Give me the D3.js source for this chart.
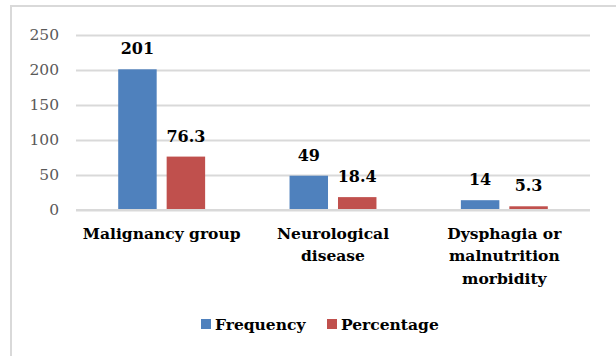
<!DOCTYPE html>
<html>
<head>
<meta charset="utf-8">
<script src="https://cdn.jsdelivr.net/npm/d3@7"></script>
<style>
  body { margin: 0; background: #fff; }
  svg text { font-family: "DejaVu Serif", serif; }
</style>
</head>
<body>
<div id="chart"></div>
<script>
// data
const categories = ['Malignancy group', 'Neurological disease', 'Dysphagia or malnutrition morbidity'];
const categoryLines = [['Malignancy group'], ['Neurological', 'disease'], ['Dysphagia or', 'malnutrition', 'morbidity']];
const seriesNames = ['Frequency', 'Percentage'];
const frequency = [201, 49, 14];
const percentage = [76.3, 18.4, 5.3];
const valueLabels = { Frequency: ['201', '49', '14'], Percentage: ['76.3', '18.4', '5.3'] };
const yTicks = [0, 50, 100, 150, 200, 250];

const colours = { Frequency: '#4f81bd', Percentage: '#c0504d' };

const config = {
  width: 616,
  height: 356,
  left: 76,
  right: 590,
  top: 35,
  bottom: 210
};

const rows = categories.map((c, i) => ({
  category: c,
  lines: categoryLines[i],
  Frequency: frequency[i],
  Percentage: percentage[i]
}));

const svg = d3.select('#chart')
  .append('svg')
    .attr('width', config.width)
    .attr('height', config.height);

// chart area border (right & bottom are cropped in the original)
svg.append('rect')
  .attr('x', 11)
  .attr('y', 6)
  .attr('width', config.width + 10)
  .attr('height', config.height + 10)
  .attr('fill', 'none')
  .attr('stroke', '#d9d9d9')
  .attr('stroke-width', 2);

const x0 = d3.scaleBand()
  .domain(categories)
  .range([config.left, config.right]);

const x1 = d3.scaleBand()
  .domain(seriesNames)
  .range([0, x0.bandwidth()])
  .paddingInner(0.206)
  .paddingOuter(0.871);

const y = d3.scaleLinear()
  .domain([0, 250])
  .range([config.bottom, config.top]);

// gridlines + y labels
const yAxis = d3.axisLeft(y)
  .tickValues(yTicks)
  .tickSize(-(config.right - config.left))
  .tickPadding(17);

svg.append('g')
  .attr('class', 'y-axis')
  .attr('transform', `translate(${config.left},0)`)
  .call(yAxis)
  .call(g => g.select('.domain').remove())
  .call(g => g.selectAll('.tick line').attr('stroke', '#d9d9d9').attr('stroke-width', 2))
  .call(g => g.selectAll('.tick text')
    .attr('fill', '#595959')
    .style('font-size', '15.5px')
    .style('font-family', '"DejaVu Serif", serif'));

// bars
const groups = svg.append('g')
  .selectAll('g')
  .data(rows)
  .join('g')
    .attr('transform', d => `translate(${x0(d.category)},0)`);

groups.selectAll('rect')
  .data(d => seriesNames.map(k => ({ key: k, value: d[k] })))
  .join('rect')
    .attr('x', d => x1(d.key))
    .attr('y', d => y(d.value))
    .attr('width', x1.bandwidth())
    .attr('height', d => y(0) - y(d.value))
    .attr('fill', d => colours[d.key]);

// value labels
groups.selectAll('.value-label')
  .data((d, i) => seriesNames.map(k => ({ key: k, value: d[k], label: valueLabels[k][i] })))
  .join('text')
    .attr('class', 'value-label')
    .attr('x', d => x1(d.key) + x1.bandwidth() / 2)
    .attr('y', d => y(d.value) - 15)
    .attr('text-anchor', 'middle')
    .style('font-size', '16px')
    .style('font-weight', 'bold')
    .attr('fill', '#000')
    .text(d => d.label);

// baseline axis line
svg.append('line')
  .attr('x1', config.left)
  .attr('x2', config.right)
  .attr('y1', y(0))
  .attr('y2', y(0))
  .attr('stroke', '#d9d9d9')
  .attr('stroke-width', 2);

// category labels
const catLabels = svg.append('g')
  .selectAll('text')
  .data(rows)
  .join('text')
    .attr('x', d => x0(d.category) + x0.bandwidth() / 2)
    .attr('y', 239)
    .attr('text-anchor', 'middle')
    .style('font-size', '15.5px')
    .style('font-weight', 'bold')
    .attr('fill', '#000');

catLabels.selectAll('tspan')
  .data(d => d.lines)
  .join('tspan')
    .attr('x', function () { return d3.select(this.parentNode).attr('x'); })
    .attr('dy', (d, i) => i === 0 ? 0 : 22.3)
    .text(d => d);

// legend
const legendX = [201, 327];
const legend = svg.append('g')
  .selectAll('g')
  .data(seriesNames)
  .join('g')
    .attr('transform', (d, i) => `translate(${legendX[i]},319)`);

legend.append('rect')
  .attr('width', 10)
  .attr('height', 10)
  .attr('fill', d => colours[d]);

legend.append('text')
  .attr('x', 14)
  .attr('y', 10.5)
  .style('font-size', '15.5px')
  .style('font-weight', 'bold')
  .attr('fill', '#000')
  .text(d => d);
</script>
</body>
</html>
